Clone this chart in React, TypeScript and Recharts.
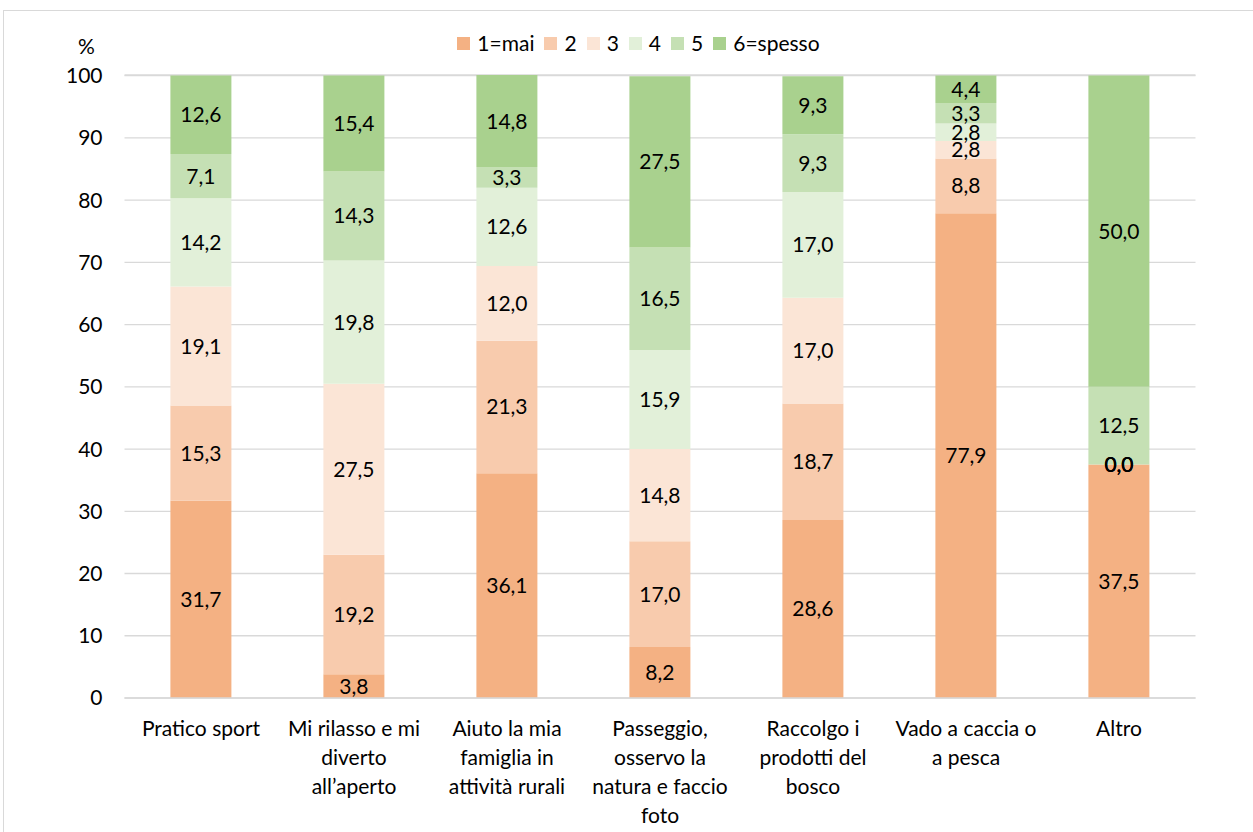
import React from 'react';
import { BarChart, Bar, XAxis, YAxis, CartesianGrid, LabelList, ReferenceDot } from 'recharts';

const categories = [
  'Pratico sport',
  'Mi rilasso e mi\ndiverto\nall\u2019aperto',
  'Aiuto la mia\nfamiglia in\nattività rurali',
  'Passeggio,\nosservo la\nnatura e faccio\nfoto',
  'Raccolgo i\nprodotti del\nbosco',
  'Vado a caccia o\na pesca',
  'Altro',
];
const s1 = [31.7, 3.8, 36.1, 8.2, 28.6, 77.9, 37.5];
const s2 = [15.3, 19.2, 21.3, 17.0, 18.7, 8.8, 0.0];
const s3 = [19.1, 27.5, 12.0, 14.8, 17.0, 2.8, 0.0];
const s4 = [14.2, 19.8, 12.6, 15.9, 17.0, 2.8, 0.0];
const s5 = [7.1, 14.3, 3.3, 16.5, 9.3, 3.3, 12.5];
const s6 = [12.6, 15.4, 14.8, 27.5, 9.3, 4.4, 50.0];
const seriesNames = ['1=mai', '2', '3', '4', '5', '6=spesso'];
const seriesColors = ['#f4b183', '#f8cbad', '#fbe5d6', '#e2f0d9', '#c5e0b4', '#a9d18e'];
const yTicks = [0, 10, 20, 30, 40, 50, 60, 70, 80, 90, 100];

const allSeries = [s1, s2, s3, s4, s5, s6];
const data = categories.map((c, i) => {
  const row: any = { name: c };
  allSeries.forEach((s, k) => { row['s' + k] = s[i]; });
  return row;
});

// zero-valued segments: their labels sit at the cumulative stack height
const zeroLabels: { cat: string; y: number; key: string }[] = [];
categories.forEach((c, i) => {
  let cum = 0;
  allSeries.forEach((s, k) => {
    if (s[i] === 0) zeroLabels.push({ cat: c, y: cum, key: c + k });
    cum += s[i];
  });
});

const FONT = 'Lato, "Open Sans", sans-serif';
const FS = 21;

const fmt = (v: any) => Number(v).toFixed(1).replace('.', ',');

const CatTick = (props: any) => {
  const { x, y, payload } = props;
  const lines = String(payload.value).split('\n');
  return (
    <g>
      {lines.map((l: string, i: number) => (
        <text key={i} x={x} y={y + 30 + i * 29} textAnchor="middle" fontSize={FS} fill="#000" fontFamily={FONT}>
          {l}
        </text>
      ))}
    </g>
  );
};

const LegendBox = () => (
  <div style={{ position: 'absolute', left: 0, top: 30, width: 1277, display: 'flex', justifyContent: 'center', alignItems: 'center', fontFamily: FONT, fontSize: FS, color: '#000', lineHeight: '26px' }}>
    {seriesNames.map((n, i) => (
      <div key={n} style={{ display: 'flex', alignItems: 'center', marginRight: i < 5 ? 10 : 0 }}>
        <div style={{ width: 13, height: 13, background: seriesColors[i], marginRight: 7 }} />
        <span>{n}</span>
      </div>
    ))}
  </div>
);

export default function App() {
  return (
    <div style={{ position: 'absolute', left: 0, top: 0, width: 1253, height: 832, overflow: 'hidden', background: '#fff' }}>
      <div style={{ position: 'absolute', left: 3, top: 10, width: 1300, height: 900, border: '1px solid #d9d9d9' }} />
      <div style={{ position: 'absolute', left: 78, top: 33, fontFamily: FONT, fontSize: FS, color: '#000' }}>%</div>
      <LegendBox />
      <div style={{ position: 'absolute', left: 0, top: 0 }}>
        <BarChart width={1253} height={832} data={data} margin={{ top: 75, right: 57.5, bottom: 14, left: 64.5 }} barCategoryGap="30%">
          <CartesianGrid vertical={false} stroke="#d9d9d9" strokeWidth={1.3} />
          <XAxis dataKey="name" axisLine={{ stroke: '#d9d9d9', strokeWidth: 1.3 }} tickLine={false} tick={<CatTick />} interval={0} height={120} />
          <YAxis domain={[0, 100]} ticks={yTicks} axisLine={false} tickLine={false} tickSize={0} tickMargin={22} width={60}
            tick={{ fontSize: FS, fill: '#000', fontFamily: FONT }} />
          {seriesNames.map((n, k) => (
            <Bar key={n} dataKey={'s' + k} name={n} stackId="a" fill={seriesColors[k]} isAnimationActive={false}>
              <LabelList dataKey={'s' + k} position="center" formatter={fmt} fill="#000" fontSize={FS} fontFamily={FONT} />
            </Bar>
          ))}
          {zeroLabels.map((z) => (
            <ReferenceDot key={z.key} x={z.cat} y={z.y} r={0} fill="none" stroke="none" ifOverflow="visible"
              label={{ value: fmt(0), position: 'center', fill: '#000', fontSize: FS, fontFamily: FONT }} />
          ))}
        </BarChart>
      </div>
    </div>
  );
}
